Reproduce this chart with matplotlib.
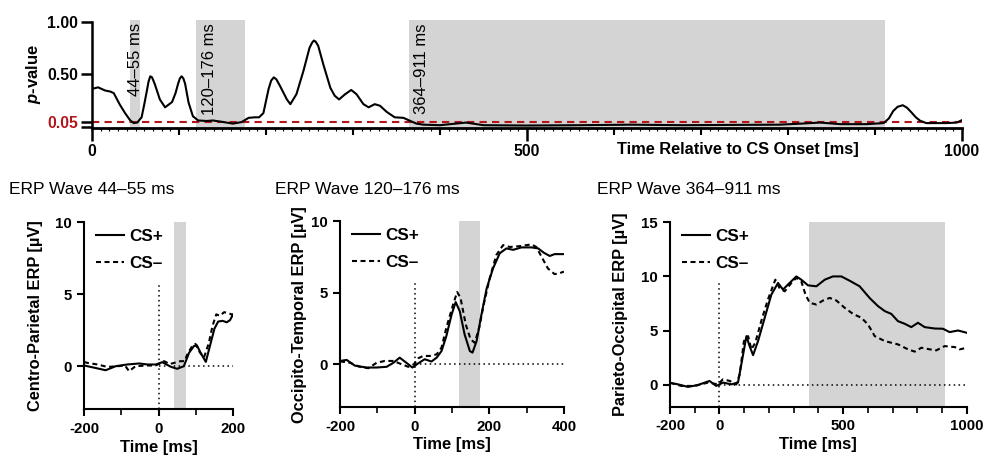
import matplotlib
matplotlib.use("Agg")
import matplotlib.pyplot as plt
from matplotlib.ticker import MultipleLocator, NullFormatter

plt.rcParams["font.family"] = ["Liberation Sans", "DejaVu Sans"]
plt.rcParams["mathtext.fontset"] = "custom"
plt.rcParams["mathtext.it"] = "Liberation Sans:italic:bold"
plt.rcParams["mathtext.rm"] = "Liberation Sans:bold"
plt.rcParams["mathtext.bf"] = "Liberation Sans:bold"

# ---- p-value time course (CS+ vs CS-) ----
p_time = [0, 7, 15, 21, 25, 32, 38, 44, 48, 52, 57, 60, 63, 65, 67, 69, 72, 78, 84, 92, 96,
          99, 101, 103, 105, 107, 111, 116, 122, 132, 139, 151, 162, 172, 180, 187, 192,
          197, 203, 206, 209, 212, 216, 224, 228, 235, 243, 250, 253, 255, 257, 260, 266,
          274, 279, 284, 291, 298, 304, 312, 318, 325, 331, 339, 348, 358, 366, 373, 381,
          400, 430, 450, 500, 560, 620, 680, 740, 790, 815, 837, 860, 890, 910, 916, 921,
          926, 932, 937, 942, 947, 952, 959, 982, 994, 1000]
p_value = [0.36, 0.375, 0.345, 0.335, 0.32, 0.21, 0.13, 0.06, 0.035, 0.04, 0.09, 0.21, 0.34,
           0.43, 0.48, 0.47, 0.41, 0.26, 0.185, 0.235, 0.32, 0.41, 0.46, 0.48, 0.46, 0.41,
           0.23, 0.10, 0.06, 0.055, 0.06, 0.045, 0.03, 0.045, 0.085, 0.09, 0.09, 0.13, 0.36,
           0.44, 0.47, 0.45, 0.39, 0.26, 0.215, 0.31, 0.53, 0.75, 0.80, 0.82, 0.81, 0.77,
           0.59, 0.37, 0.295, 0.26, 0.31, 0.35, 0.31, 0.215, 0.185, 0.215, 0.20, 0.14, 0.09,
           0.085, 0.055, 0.03, 0.02, 0.015, 0.04, 0.015, 0.012, 0.015, 0.02, 0.015, 0.018,
           0.02, 0.03, 0.04, 0.025, 0.025, 0.035, 0.08, 0.15, 0.19, 0.205, 0.18, 0.136,
           0.09, 0.057, 0.035, 0.035, 0.04, 0.063]
alpha_level = 0.05
windows = [(44, 55), (120, 176), (364, 911)]
window_labels = ["44–55 ms", "120–176 ms", "364–911 ms"]

# ---- ERP waves ----
t1_pos = [-200, -173, -142, -115, -84, -52, -30, -7, 10, 33, 50, 68, 82, 95, 103, 113, 127,
          140, 150, 160, 172, 183, 192, 200]
v1_pos = [0.05, -0.1, -0.28, 0.0, 0.12, 0.19, 0.12, 0.12, 0.28, -0.04, -0.18, 0.0, 0.93,
          1.4, 1.45, 0.93, 0.3, 1.6, 2.6, 3.1, 3.15, 3.05, 3.2, 3.6]
t1_neg = [-200, -191, -164, -137, -110, -90, -79, -62, -30, -8, 5, 15, 30, 45, 59, 70, 77, 88,
          99, 110, 122, 135, 145, 155, 165, 176, 186, 196, 200]
v1_neg = [0.3, 0.23, 0.12, -0.05, 0.0, 0.05, -0.35, 0.0, 0.05, 0.05, 0.2, 0.35, 0.15, 0.25,
          0.35, 0.35, 0.8, 1.3, 1.55, 1.0, 0.6, 1.6, 2.8, 3.6, 3.5, 3.75, 3.7, 3.6, 3.5]

t2_pos = [-200, -182, -160, -129, -102, -75, -57, -40, -22, -6, 10, 27, 45, 59, 72, 85, 99,
          110, 121, 134, 148, 155, 166, 179, 193, 210, 228, 246, 264, 286, 313, 331, 346,
          362, 375, 400]
v2_pos = [0.23, 0.3, -0.1, -0.23, -0.23, -0.18, 0.1, 0.46, 0.1, -0.23, 0.07, 0.35, 0.19,
          0.46, 0.92, 1.97, 3.47, 4.35, 3.7, 2.08, 0.92, 0.81, 1.62, 3.47, 5.3, 6.7, 7.76,
          8.1, 8.0, 8.17, 8.17, 8.1, 7.8, 7.57, 7.7, 7.7]
t2_neg = [-200, -173, -147, -124, -102, -80, -57, -35, -17, -2, 10, 23, 41, 59, 72, 85, 103,
          114, 123, 137, 150, 161, 173, 185, 201, 219, 237, 255, 282, 313, 326, 340, 357,
          375, 389, 400]
v2_neg = [0.2, 0.1, -0.18, -0.28, 0.1, 0.23, 0.23, 0.0, -0.18, 0.0, 0.42, 0.58, 0.58, 0.69,
          1.16, 2.55, 4.17, 5.05, 4.63, 2.78, 1.74, 1.5, 2.55, 4.17, 6.0, 7.64, 8.33, 8.2,
          8.26, 8.38, 8.2, 7.52, 6.7, 6.3, 6.37, 6.48]

t3_pos = [-200, -168, -127, -87, -40, -13, 14, 48, 75, 91, 109, 122, 136, 156, 183, 210, 237,
          257, 277, 311, 331, 358, 392, 426, 459, 493, 527, 567, 608, 641, 669, 695, 722,
          749, 776, 803, 830, 871, 904, 931, 965, 1000]
v3_pos = [0.2, 0.06, -0.18, 0.0, 0.37, -0.09, 0.22, 0.06, 0.22, 2.2, 4.5, 3.58, 2.75, 4.04,
          6.19, 8.33, 9.4, 8.79, 9.25, 10.0, 9.7, 9.18, 9.09, 9.7, 10.0, 10.0, 9.6, 9.09,
          8.0, 7.27, 6.8, 6.55, 5.88, 5.64, 5.33, 5.73, 5.33, 5.2, 5.18, 4.87, 5.02, 4.81]
t3_neg = [-200, -154, -100, -46, -6, 14, 42, 68, 82, 99, 116, 129, 145, 169, 196, 226, 244,
          264, 291, 311, 331, 348, 365, 392, 419, 446, 473, 507, 540, 574, 601, 628, 669,
          722, 763, 790, 817, 851, 877, 911, 952, 972, 1000]
v3_neg = [0.2, -0.09, -0.09, 0.22, 0.06, 0.52, 0.37, 0.04, 0.98, 4.04, 4.5, 3.28, 3.89, 5.88,
          7.87, 9.7, 8.88, 8.63, 9.4, 9.86, 9.55, 8.33, 7.57, 7.41, 7.78, 8.02, 7.78, 7.1,
          6.55, 6.19, 5.57, 4.5, 4.04, 3.74, 3.28, 3.07, 3.43, 3.28, 3.19, 3.58, 3.49, 3.28,
          3.43]

erp_titles = ["ERP Wave 44–55 ms", "ERP Wave 120–176 ms", "ERP Wave 364–911 ms"]
erp_ylabels = ["Centro-Parietal ERP [µV]", "Occipito-Temporal ERP [µV]",
               "Parieto-Occipital ERP [µV]"]
erp_windows = [(42, 74), (120, 176), (364, 911)]

GREY = "#d4d4d4"
RED = "#b3151b"

fig = plt.figure(figsize=(9.84, 4.59), dpi=100)

# ================= top panel =================
ax = fig.add_axes([0.0935, 0.7215, 0.8841, 0.236])
for (lo, hi), lab in zip(windows, window_labels):
    ax.axvspan(lo, hi, color=GREY, lw=0, zorder=0)
    ax.text(min(lo + 15, (lo + hi) / 2), 0.985, lab, rotation=90, ha="center", va="top",
            fontsize=12, zorder=1)
ax.axhline(alpha_level, color=RED, lw=1.5, dashes=(3.5, 2.5), zorder=2)
ax.plot(p_time, p_value, color="black", lw=1.5, zorder=3)
ax.set_xlim(0, 1000)
ax.set_ylim(-0.01, 1.02)
for s in ("top", "right"):
    ax.spines[s].set_visible(False)
ax.spines["left"].set_bounds(-0.01, 1.0)
ax.spines["left"].set_linewidth(1.8)
ax.spines["bottom"].set_linewidth(2.0)
ax.set_yticks([0.0, 0.05, 0.5, 1.0])
ax.set_yticklabels(["", "0.05", "0.50", "1.00"], fontsize=11.3, fontweight="bold")
ax.get_yticklabels()[1].set_color(RED)
ax.tick_params(axis="y", length=8, width=1.8, pad=2)
ax.set_xticks([0, 500, 1000])
ax.set_xticklabels(["0", "500", "1000"], fontsize=11.3, fontweight="bold")
ax.xaxis.set_minor_locator(MultipleLocator(100))
ax.tick_params(axis="x", which="major", length=9, width=1.8, pad=3)
ax.tick_params(axis="x", which="minor", length=5, width=1.5)
sec = ax.secondary_xaxis("bottom")
sec.set_xticks(list(range(0, 1001, 10)))
sec.xaxis.set_major_formatter(NullFormatter())
sec.tick_params(length=2, width=0.8)
sec.spines["bottom"].set_visible(False)
ax.set_ylabel(r"$p$-value", fontsize=12, fontweight="bold")
ax.yaxis.set_label_coords(-0.056, 0.5)
ax.text(742, -0.2, "Time Relative to CS Onset [ms]", transform=ax.get_xaxis_transform(),
        ha="center", va="center", fontsize=11.8, fontweight="bold")

# ================= ERP panels =================
panels = [
    dict(rect=[0.0854, 0.108, 0.1514, 0.408], xlim=(-200, 200), ylim=(-3, 10),
         xt=[-200, 0, 200], yt=[0, 5, 10], vtop=5.7,
         pos=(t1_pos, v1_pos), neg=(t1_neg, v1_neg), ylx=-0.275, tx=0.009,
         leg=(0.035, 1.0)),
    dict(rect=[0.3455, 0.113, 0.2276, 0.405], xlim=(-200, 400), ylim=(-3, 10),
         xt=[-200, 0, 200, 400], yt=[0, 5, 10], vtop=5.7,
         pos=(t2_pos, v2_pos), neg=(t2_neg, v2_neg), ylx=-0.147, tx=0.279,
         leg=(0.022, 1.0)),
    dict(rect=[0.6809, 0.114, 0.3015, 0.402], xlim=(-200, 1000), ylim=(-2, 15),
         xt=[-200, 0, 500, 1000], yt=[0, 5, 10, 15], vtop=9.45,
         pos=(t3_pos, v3_pos), neg=(t3_neg, v3_neg), ylx=-0.142, tx=0.607,
         leg=(0.017, 1.0)),
]

for i, pnl in enumerate(panels):
    a = fig.add_axes(pnl["rect"])
    lo, hi = erp_windows[i]
    a.axvspan(lo, hi, color=GREY, lw=0, zorder=0)
    a.plot([0, 0], [pnl["ylim"][0], pnl["vtop"]], color="black", lw=1.1,
           ls=(0, (1, 2.2)), zorder=1)
    a.plot([0, pnl["xlim"][1]], [0, 0], color="black", lw=1.1, ls=(0, (1, 2.2)), zorder=1)
    a.plot(*pnl["pos"], color="black", lw=1.5, label="CS+", zorder=3)
    a.plot(*pnl["neg"], color="black", lw=1.5, dashes=(2.4, 1.7), label="CS–", zorder=3)
    a.set_xlim(*pnl["xlim"])
    a.set_ylim(*pnl["ylim"])
    for s in ("top", "right"):
        a.spines[s].set_visible(False)
    a.spines["left"].set_bounds(pnl["ylim"][0], pnl["ylim"][1])
    for s in ("left", "bottom"):
        a.spines[s].set_linewidth(1.5)
    a.set_xticks(pnl["xt"])
    a.set_xticklabels([str(v) for v in pnl["xt"]], fontsize=10.8, fontweight="bold")
    a.xaxis.set_minor_locator(MultipleLocator(100))
    a.set_yticks(pnl["yt"])
    a.set_yticklabels([str(v) for v in pnl["yt"]], fontsize=10.8, fontweight="bold")
    a.tick_params(axis="both", which="major", length=5, width=1.5, pad=4)
    a.tick_params(axis="x", which="minor", length=4, width=1.2)
    a.set_xlabel("Time [ms]", fontsize=12, fontweight="bold")
    a.xaxis.set_label_coords(0.5, -0.163)
    a.set_ylabel(erp_ylabels[i], fontsize=11.8, fontweight="bold")
    a.yaxis.set_label_coords(pnl["ylx"], 0.5)
    a.legend(loc="upper left", bbox_to_anchor=pnl["leg"], frameon=False,
             handlelength=1.65, handletextpad=0.3, labelspacing=0.72,
             borderaxespad=0.0, prop=dict(size=12.3, weight="bold"))
    fig.text(pnl["tx"], 1 - 190 / 459, erp_titles[i], fontsize=12.5, ha="left", va="center")

fig.savefig("out.png", dpi=100)
